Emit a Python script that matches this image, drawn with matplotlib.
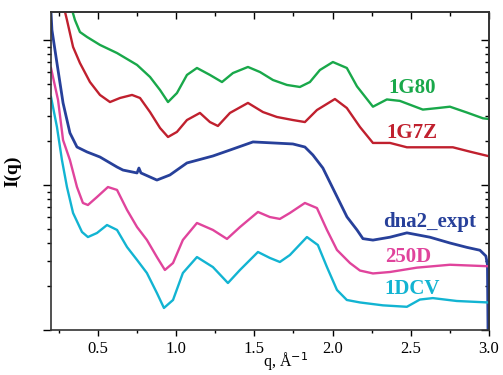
import numpy as np
import matplotlib
matplotlib.use("Agg")
import matplotlib.pyplot as plt
from matplotlib.ticker import LogLocator, NullFormatter, MultipleLocator, FormatStrFormatter

# q values (Å^-1) and log10 intensity for each curve
q_1g80 = [0.315, 0.353, 0.385, 0.430, 0.513, 0.622, 0.750, 0.833, 0.897, 0.948, 1.005, 1.069, 1.133,
          1.216, 1.293, 1.363, 1.459, 1.536, 1.619, 1.708, 1.791, 1.855, 1.919, 2.002, 2.091, 2.156,
          2.258, 2.347, 2.430, 2.577, 2.667, 2.750, 2.858, 2.961, 3.0]
logI_1g80 = [1.28, 1.138, 1.055, 1.021, 0.966, 0.910, 0.828, 0.745, 0.655, 0.572, 0.634, 0.759, 0.807,
             0.759, 0.710, 0.772, 0.814, 0.779, 0.724, 0.690, 0.676, 0.710, 0.793, 0.848, 0.807, 0.68,
             0.54, 0.59, 0.58, 0.52, 0.53, 0.54, 0.50, 0.46, 0.455]

q_1g7z = [0.270, 0.302, 0.341, 0.385, 0.449, 0.513, 0.577, 0.641, 0.718, 0.769, 0.833, 0.897, 0.948,
          1.005, 1.069, 1.152, 1.216, 1.267, 1.344, 1.459, 1.555, 1.644, 1.746, 1.823, 1.900, 2.015,
          2.091, 2.175, 2.258, 2.367, 2.475, 2.622, 2.769, 2.878, 2.993]
logI_1g7z = [1.28, 1.138, 0.952, 0.841, 0.710, 0.621, 0.572, 0.600, 0.621, 0.600, 0.503, 0.393, 0.331,
             0.366, 0.448, 0.497, 0.434, 0.407, 0.497, 0.566, 0.503, 0.469, 0.448, 0.434, 0.517, 0.593,
             0.531, 0.40, 0.29, 0.29, 0.26, 0.26, 0.26, 0.23, 0.20]

q_dna2 = [0.200, 0.206, 0.238, 0.277, 0.321, 0.366, 0.430, 0.513, 0.622, 0.660, 0.750, 0.762, 0.775,
          0.877, 0.960, 1.069, 1.235, 1.344, 1.491, 1.619, 1.746, 1.823, 1.874, 1.938, 2.028, 2.092,
          2.156, 2.194, 2.258, 2.367, 2.475, 2.622, 2.750, 2.858, 2.942, 2.980, 2.990, 2.995]
logI_dna2 = [1.19, 1.069, 0.841, 0.566, 0.359, 0.262, 0.228, 0.193, 0.124, 0.103, 0.083, 0.117, 0.083,
             0.034, 0.069, 0.152, 0.200, 0.241, 0.297, 0.290, 0.283, 0.262, 0.207, 0.117, -0.08, -0.22,
             -0.31, -0.37, -0.38, -0.36, -0.33, -0.36, -0.40, -0.43, -0.45, -0.49, -0.55, -1.2]

q_250d = [0.200, 0.245, 0.277, 0.321, 0.366, 0.404, 0.436, 0.494, 0.564, 0.622, 0.686, 0.750, 0.813,
          0.877, 0.928, 0.980, 1.043, 1.133, 1.235, 1.325, 1.408, 1.523, 1.599, 1.663, 1.727, 1.823,
          1.900, 1.964, 2.028, 2.111, 2.175, 2.258, 2.367, 2.539, 2.750, 2.986]
logI_250d = [0.807, 0.586, 0.31, 0.172, -0.014, -0.124, -0.138, -0.083, -0.014, -0.034, -0.172, -0.290,
             -0.379, -0.497, -0.586, -0.538, -0.379, -0.262, -0.310, -0.372, -0.290, -0.186, -0.221,
             -0.234, -0.193, -0.124, -0.159, -0.310, -0.448, -0.538, -0.59, -0.61, -0.60, -0.57,
             -0.55, -0.56]

q_1dcv = [0.200, 0.238, 0.270, 0.302, 0.341, 0.398, 0.436, 0.494, 0.558, 0.622, 0.686, 0.750, 0.813,
          0.877, 0.922, 0.980, 1.043, 1.133, 1.235, 1.331, 1.408, 1.523, 1.599, 1.663, 1.727, 1.836,
          1.906, 1.964, 2.028, 2.091, 2.175, 2.322, 2.475, 2.558, 2.641, 2.794, 2.993]
logI_1dcv = [0.607, 0.40, 0.172, -0.014, -0.193, -0.324, -0.359, -0.331, -0.276, -0.310, -0.428, -0.517,
             -0.607, -0.745, -0.848, -0.793, -0.607, -0.497, -0.566, -0.676, -0.586, -0.462, -0.503,
             -0.531, -0.483, -0.359, -0.414, -0.566, -0.724, -0.793, -0.81, -0.83, -0.84, -0.79,
             -0.78, -0.80, -0.81]

labels = ["1G80", "1G7Z", "dna2_expt", "250D", "1DCV"]
colors = ["#19a84a", "#c0202e", "#27409a", "#e0449c", "#12b4d2"]
label_q = [2.507, 2.507, 2.622, 2.481, 2.507]
label_I = [10 ** 0.669, 10 ** 0.359, 10 ** -0.255, 10 ** -0.497, 10 ** -0.718]

plt.rcParams['font.family'] = ['Liberation Serif', 'DejaVu Serif']

fig = plt.figure(figsize=(5.03, 3.75), dpi=100)
ax = fig.add_axes([0.1014, 0.12, 0.8708, 0.848])

series = [(q_1g80, logI_1g80), (q_1g7z, logI_1g7z), (q_dna2, logI_dna2),
          (q_250d, logI_250d), (q_1dcv, logI_1dcv)]
for (q, li), c, lab in zip(series, colors, labels):
    lw = 2.0 if lab == "dna2_expt" else 1.7
    ax.plot(q, 10 ** np.array(li), color=c, lw=lw, solid_joinstyle='round')

for lab, c, x, y in zip(labels, colors, label_q, label_I):
    ax.text(x, y, lab, color=c, fontsize=15, fontweight='bold', ha='center', va='center')

ax.set_yscale('log')
ax.set_xlim(0.2, 3.0)
ax.set_ylim(10 ** -1, 10 ** 1.193)
ax.xaxis.set_major_locator(MultipleLocator(0.5))
ax.xaxis.set_minor_locator(MultipleLocator(0.25))
ax.xaxis.set_major_formatter(FormatStrFormatter('%.1f'))
ax.yaxis.set_major_locator(LogLocator(base=10, numticks=10))
ax.yaxis.set_minor_locator(LogLocator(base=10, subs=np.arange(2, 10), numticks=10))
ax.yaxis.set_major_formatter(NullFormatter())
ax.yaxis.set_minor_formatter(NullFormatter())

ax.tick_params(axis='x', which='major', direction='out', length=4, width=1, labelsize=12, pad=4)
ax.tick_params(axis='x', which='minor', direction='out', length=2.5, width=1)
ax.tick_params(axis='y', which='major', direction='out', length=6, width=1)
ax.tick_params(axis='y', which='minor', direction='out', length=3, width=1)

# top and right ticks point inward
top = ax.secondary_xaxis('top')
top.xaxis.set_major_locator(MultipleLocator(0.5))
top.xaxis.set_minor_locator(MultipleLocator(0.25))
top.tick_params(which='major', direction='in', length=5, width=1, labeltop=False)
top.tick_params(which='minor', direction='in', length=3, width=1)
top.xaxis.set_major_formatter(NullFormatter())

right = ax.secondary_yaxis('right')
right.yaxis.set_major_locator(LogLocator(base=10, numticks=10))
right.yaxis.set_minor_locator(LogLocator(base=10, subs=np.arange(2, 10), numticks=10))
right.tick_params(which='major', direction='in', length=6, width=1)
right.tick_params(which='minor', direction='in', length=3, width=1)
right.yaxis.set_major_formatter(NullFormatter())
right.yaxis.set_minor_formatter(NullFormatter())

for s in list(ax.spines.values()) + list(top.spines.values()) + list(right.spines.values()):
    s.set_linewidth(1.2)
    s.set_color('#333333')

ax.set_xlabel("q, Å$^{-1}$", fontsize=11.5)
ax.xaxis.label.set_va('center')
ax.xaxis.set_label_coords(0.535, -0.1)
ax.set_ylabel("I(q)", fontsize=14, fontweight='bold', labelpad=12)

fig.savefig("out.png", dpi=100)
